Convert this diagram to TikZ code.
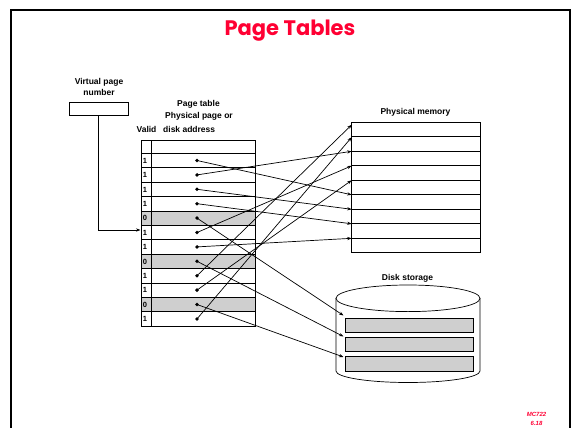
\documentclass[tikz,border=0pt]{standalone}
\usepackage{fontspec}
\setmainfont{Liberation Sans}
\newfontfamily\titlefont{Poppins}
\usetikzlibrary{arrows.meta}
\definecolor{titlered}{RGB}{255,0,51}
\definecolor{cellgray}{RGB}{207,207,207}
\begin{document}
\begin{tikzpicture}[x=1pt,y=-1pt,
  lab/.style={font=\fontsize{8.5}{9.5}\selectfont\bfseries, inner sep=0pt},
  validtxt/.style={font=\fontsize{7.5}{8}\selectfont\bfseries, inner sep=0pt, anchor=west},
  arr/.style={-{Stealth[length=4.5pt,width=3.2pt]}, line width=0.7pt},
  dot/.style={circle, fill=black, inner sep=0pt, minimum size=3.8pt},
  grid/.style={line width=0.7pt},
  slot/.style={draw, fill=cellgray, line width=0.7pt}]
\useasboundingbox (0,0) rectangle (573,428);
\clip (0,0) rectangle (573,428);
% frame
\draw[line width=2.6pt] (11,10) rectangle (570,470);
% title
\node[font=\titlefont\bfseries\fontsize{21}{24}\selectfont, text=titlered] (title) at (290,31) {Page Tables};
% virtual page number
\node[lab, align=center] (vlab) at (99,87) {Virtual page\\[1pt]number};
\node[draw, grid, minimum width=59pt, minimum height=13.4pt, inner sep=0pt] (vbox) at (98.7,109) {};
\coordinate (entry) at (140.5,230);
\draw[arr] (vbox.south) |- (entry);
% page table headers
\node[lab] (ptlab) at (198.5,104) {Page table};
\node[lab, anchor=west] (pplab) at (165,116.5) {Physical page or};
\node[lab, anchor=west] (dalab) at (163,129) {disk address};
\node[lab] (validlab) at (146.5,129) {Valid};
% page table
\foreach \i in {5,8,11}
  \fill[cellgray] (141,{153.3+14.4*(\i-1)}) rectangle (255.7,{153.3+14.4*\i});
\draw[grid] (141,140) rectangle (255.7,326.1);
\draw[grid] (151.7,140) -- (151.7,326.1);
\foreach \k in {0,...,11}
  \draw[grid] (141,{153.3+14.4*\k}) -- (255.7,{153.3+14.4*\k});
\foreach \v [count=\i] in {1,1,1,1,0,1,1,0,1,1,0,1}
  \node[validtxt] (v\i) at (142.6,{160.7+14.4*(\i-1)}) {\v};
\foreach \i in {1,...,12}
  \node[dot] (d\i) at (197,{160.5+14.4*(\i-1)}) {};
% physical memory
\node[lab] (pmlab) at (415.5,112.7) {Physical memory};
\draw[grid] (351.7,122.3) rectangle (480,252.8);
\foreach \k in {1,...,8}
  \draw[grid] (351.7,{122.3+14.5*\k}) -- (480,{122.3+14.5*\k});
\coordinate (m0) at (351.7,124.8);
\coordinate (m1) at (351.7,137.2);
\foreach \k in {2,...,8}
  \coordinate (m\k) at (351.7,{122.3+14.5*\k});
% disk storage
\node[lab] (dslab) at (407.5,278) {Disk storage};
\filldraw[fill=white, line width=0.7pt] (336,298.3) -- (336,371)
  arc[start angle=180, end angle=0, x radius=72, y radius=11.5]
  -- (480,298.3) -- cycle;
\draw[fill=white, line width=0.7pt] (408,298.3) ellipse[x radius=72, y radius=13.3];
\draw[slot] (345.7,318.3) rectangle (473.3,332.7);
\draw[slot] (345.7,337.7) rectangle (473.3,351.7);
\draw[slot] (345.7,356.7) rectangle (473.3,371);
\coordinate (k1) at (343.5,315.5);
\coordinate (k2) at (343.5,336.5);
\coordinate (k3) at (343.5,357);
% mappings
\draw[arr] (d1.center) -- (m5);
\draw[arr] (d2.center) -- (m2);
\draw[arr] (d3.center) -- (m6);
\draw[arr] (d4.center) -- (m7);
\draw[arr] (d6.center) -- (m3);
\draw[arr] (d7.center) -- (m8);
\draw[arr] (d9.center) -- (m0);
\draw[arr] (d10.center) -- (m4);
\draw[arr] (d12.center) -- (m1);
\draw[arr] (d5.center) -- (k1);
\draw[arr] (d8.center) -- (k2);
\draw[arr] (d11.center) -- (k3);
% footer
\node[font=\fontsize{6}{9}\selectfont\bfseries\itshape, text=titlered, align=center] (foot) at (536.5,418.5) {MC722\\6.18};
\end{tikzpicture}
\end{document}
